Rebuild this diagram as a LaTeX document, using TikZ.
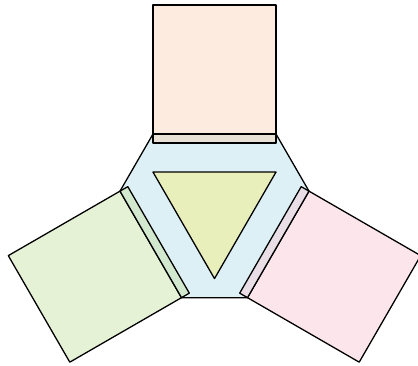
\documentclass[tikz,border=0pt]{standalone}
\definecolor{hexblue}{HTML}{DDF0F5}
\definecolor{triyellow}{HTML}{E9EFBA}
\definecolor{toppeach}{HTML}{FDEBE0}
\definecolor{topstrip}{HTML}{E9E1D6}
\definecolor{leftgreen}{HTML}{E6F2D6}
\definecolor{leftstrip}{HTML}{D3E9CF}
\definecolor{rightpink}{HTML}{FCE6EC}
\definecolor{rightstrip}{HTML}{E9DEE6}
\begin{document}
\begin{tikzpicture}[x=0.03cm, y=0.03cm, line width=1.1pt, line join=round]
      \useasboundingbox (-214.5,-158.4) rectangle (203.5,207.6);
      % hexagon and inner triangle
      \filldraw[fill=hexblue] (50.1:95.9) -- (129.9:95.9) -- (170.1:95.9) -- (249.9:95.9) -- (290.1:95.9) -- (9.9:95.9) -- cycle;
      \filldraw[fill=triyellow] (30:71) -- (150:71) -- (270:71) -- cycle;
      % top arm
      \filldraw[fill=toppeach] (-61.5,73.6) rectangle (61.5,202.6);
      \filldraw[fill=topstrip] (-61.5,64.6) rectangle (61.5,73.6);
      % left arm
      \begin{scope}[rotate=120]
        \filldraw[fill=leftgreen] (-61.5,73.6) rectangle (61.5,202.6);
        \filldraw[fill=leftstrip] (-61.5,64.6) rectangle (61.5,73.6);
      \end{scope}
      % right arm
      \begin{scope}[rotate=-120]
        \filldraw[fill=rightpink] (-61.5,73.6) rectangle (61.5,202.6);
        \filldraw[fill=rightstrip] (-61.5,64.6) rectangle (61.5,73.6);
      \end{scope}
    \end{tikzpicture}
\end{document}
